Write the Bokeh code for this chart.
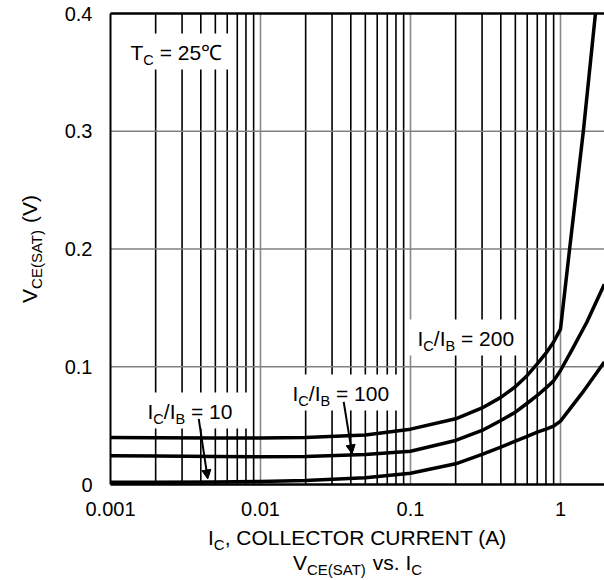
import math
import numpy as np
from bokeh.plotting import figure
from bokeh.models import (FixedTicker, CustomJSTickFormatter, Label, Arrow,
                          NormalHead, Range1d)
from bokeh.embed import file_html
from bokeh.resources import INLINE

# ---------------- data ----------------
current_200 = [0.001, 0.002, 0.005, 0.01, 0.02, 0.05, 0.1, 0.2, 0.3, 0.4, 0.5,
               0.6, 0.7, 0.8, 0.9, 1.0, 1.15, 1.42, 1.71]
vce_200 = [0.0400, 0.0398, 0.0395, 0.0395, 0.0400, 0.0420, 0.0470, 0.0558,
           0.0650, 0.0740, 0.0830, 0.0926, 0.1025, 0.1115, 0.1210, 0.1320,
           0.200, 0.300, 0.400]

current_100 = [0.001, 0.002, 0.005, 0.01, 0.02, 0.05, 0.1, 0.2, 0.3, 0.4, 0.5,
               0.6, 0.7, 0.8, 0.9, 1.0, 1.2, 1.5, 1.96]
vce_100 = [0.0245, 0.0242, 0.0238, 0.0236, 0.0238, 0.0255, 0.0283, 0.0374,
           0.0459, 0.0544, 0.0614, 0.0690, 0.0756, 0.0820, 0.0880, 0.0968,
           0.115, 0.138, 0.170]

current_10 = [0.001, 0.002, 0.005, 0.01, 0.02, 0.05, 0.1, 0.2, 0.3, 0.4, 0.5,
              0.6, 0.7, 0.8, 0.9, 1.0, 1.4, 1.96]
vce_10 = [0.0020, 0.0020, 0.0022, 0.0025, 0.0033, 0.0058, 0.0096, 0.0176,
          0.0255, 0.0317, 0.0368, 0.0408, 0.0444, 0.0470, 0.0495, 0.0538,
          0.078, 0.104]

x_ticks = [0.001, 0.01, 0.1, 1]
x_tick_labels = ["0.001", "0.01", "0.1", "1"]
x_minor_multipliers = [2, 3, 4, 5, 6, 7, 8, 9]
y_ticks = [0, 0.1, 0.2, 0.3, 0.4]
y_tick_labels = ["0", "0.1", "0.2", "0.3", "0.4"]

arrow_target_10 = 0.00445     # A, where the "10" arrow touches its curve
arrow_target_100 = 0.0408     # A, where the "100" arrow touches its curve

# ---------------- layout (picture pixels) ----------------
FIG_W, FIG_H = 604, 580
FRAME_L, FRAME_T, FRAME_B, FRAME_R = 110, 13, 484, 604
PX_DEC = 150.0
X_MIN, Y_MAX = 0.001, 0.4
PX_PER_V = (FRAME_B - FRAME_T) / Y_MAX
X_END = X_MIN * 10 ** ((FRAME_R - FRAME_L) / PX_DEC)
BASE_FIX = 0.38   # baseline correction (fraction of font size)


def xd(px):
    return X_MIN * 10 ** ((px - FRAME_L) / PX_DEC)


def yd(py):
    return (FRAME_B - py) / PX_PER_V


def xp(x):
    return FRAME_L + PX_DEC * math.log10(x / X_MIN)


def yp(y):
    return FRAME_B - y * PX_PER_V


FONT = "Liberation Sans"
W = {' ': 278, '(': 333, ')': 333, ',': 278, '.': 278, '/': 278, '=': 584,
     'A': 667, 'B': 667, 'C': 722, 'E': 667, 'I': 278, 'L': 556, 'N': 722,
     'O': 778, 'R': 722, 'S': 667, 'T': 611, 'U': 722, 'V': 667, 's': 500,
     'v': 500, '℃': 1000}


def tw(s, size):
    return sum(W.get(c, 556) for c in s) * size / 1000.0


p = figure(width=FIG_W, height=FIG_H, x_axis_type="log", title=None,
           x_range=Range1d(xd(0), xd(FIG_W)), y_range=Range1d(yd(FIG_H), yd(0)),
           output_backend="svg", toolbar_location=None,
           min_border=0, min_border_left=0, min_border_right=0,
           min_border_top=0, min_border_bottom=0)
p.outline_line_color = None
p.background_fill_color = "white"
p.border_fill_color = "white"
p.xgrid.visible = False
p.ygrid.visible = False

x_minor = [m * d for d in x_ticks for m in x_minor_multipliers if m * d <= X_END]
xticker = FixedTicker(ticks=x_ticks, minor_ticks=x_minor)
yticker = FixedTicker(ticks=y_ticks, minor_ticks=[])

xa = p.xaxis[0]
ya = p.yaxis[0]
xa.ticker = xticker
ya.ticker = yticker
xa.fixed_location = 0
ya.fixed_location = X_MIN
xa.bounds = (X_MIN, X_END)
ya.bounds = (0, Y_MAX)
xa.formatter = CustomJSTickFormatter(args=dict(labels=x_tick_labels),
                                     code="return labels[index]")
ya.formatter = CustomJSTickFormatter(args=dict(labels=y_tick_labels),
                                     code="return labels[index]")
for ax in (xa, ya):
    ax.major_tick_out = 0
    ax.major_tick_in = 0
    ax.minor_tick_out = 0
    ax.minor_tick_in = 0
    ax.axis_line_color = "black"
    ax.major_label_text_font = FONT
    ax.major_label_text_font_size = "20px"
    ax.major_label_text_color = "black"
xa.axis_line_width = 2.5
ya.axis_line_width = 2
xa.major_label_standoff = 17
ya.major_label_standoff = 18

# ---------------- grid (drawn from the tick arrays) ----------------
n_min = len(x_minor)
p.segment(x0=x_minor, y0=[0] * n_min, x1=x_minor, y1=[Y_MAX] * n_min,
          line_color="black", line_width=1.6)
x_dec = [t for t in x_ticks if t > X_MIN]
p.segment(x0=x_dec, y0=[0] * len(x_dec), x1=x_dec, y1=[Y_MAX] * len(x_dec),
          line_color="#8a8a8a", line_width=1.6)
y_inner = [t for t in y_ticks if 0 < t < Y_MAX]
p.segment(x0=[X_MIN] * len(y_inner), y0=y_inner, x1=[X_END] * len(y_inner),
          y1=y_inner, line_color="#808080", line_width=1.6)
# top edge of the plot area
p.segment(x0=[X_MIN], y0=[Y_MAX], x1=[X_END], y1=[Y_MAX],
          line_color="black", line_width=2.5)

# ---------------- text helpers ----------------


def pieces_width(pieces, size, sub):
    return sum(tw(t, sub if s else size) for t, s in pieces)


def draw_pieces(pieces, x0, base, size, sub, drop, rotate=False):
    pos = x0 if not rotate else base
    for t, s in pieces:
        fs = sub if s else size
        txt = t.lstrip(' ')
        lead = tw(t[:len(t) - len(txt)], fs)
        shift = (drop if s else 0) - BASE_FIX * fs
        if not rotate:
            lab = Label(x=xd(pos + lead), y=yd(base + shift),
                        text=txt, text_font=FONT, text_font_size=f"{fs}px",
                        text_color="black", text_align="left",
                        text_baseline="alphabetic")
            pos += tw(t, fs)
        else:
            lab = Label(x=xd(x0 + shift), y=yd(pos - lead),
                        text=txt, angle=math.pi / 2,
                        text_font=FONT, text_font_size=f"{fs}px",
                        text_color="black", text_align="left",
                        text_baseline="alphabetic")
            pos -= tw(t, fs)
        p.add_layout(lab)


def ratio_label(n):
    return [("I", 0), ("C", 1), ("/I", 0), ("B", 1), (f" = {n}", 0)]


inline_labels = [
    # pieces, left x, baseline, (pad_left, pad_right)
    ([("T", 0), ("C", 1), (" = 25℃", 0)], 130, 60, (7, 8)),
    (ratio_label(10), 147, 419, (6, 17)),
    (ratio_label(100), 292, 401, (5, 8)),
    (ratio_label(200), 417, 346, (11, 10)),
]
LS, LSUB, LDROP = 21, 14.5, 5

# white boxes behind the inline labels
bl, br, bt, bb = [], [], [], []
for pcs, x0, base, (pl, pr) in inline_labels:
    wdt = pieces_width(pcs, LS, LSUB)
    bl.append(xd(x0 - pl))
    br.append(xd(x0 + wdt + pr))
    bt.append(yd(base - 27))
    bb.append(yd(base + 9))
p.quad(left=bl, right=br, top=bt, bottom=bb, fill_color="white",
       line_color=None)

# ---------------- curves ----------------
for cur, v in ((current_200, vce_200), (current_100, vce_100),
               (current_10, vce_10)):
    p.line(cur, v, line_color="black", line_width=3.5, line_join="round")

for pcs, x0, base, _ in inline_labels:
    draw_pieces(pcs, x0, base, LS, LSUB, LDROP)

# arrows
for target, cur, v, gap, (dx, dy) in (
        (arrow_target_10, current_10, vce_10, 3, (-9, -60)),
        (arrow_target_100, current_100, vce_100, 1, (-8.4, -52))):
    vy = float(np.interp(math.log10(target), np.log10(cur), v))
    tx, ty = xp(target), yp(vy) - gap
    p.add_layout(Arrow(end=NormalHead(size=9, fill_color="black",
                                      line_color="black"),
                       x_start=xd(tx + dx), y_start=yd(ty + dy),
                       x_end=xd(tx), y_end=yd(ty),
                       line_color="black", line_width=2))

# ---------------- axis titles ----------------
TS, TSUB, TDROP = 21, 15, 5
center_x = (FRAME_L + FRAME_R) / 2
t1 = [("I", 0), ("C", 1), (", COLLECTOR CURRENT (A)", 0)]
t2 = [("V", 0), ("CE(SAT)", 1), (" vs. I", 0), ("C", 1)]
draw_pieces(t1, center_x - pieces_width(t1, TS, TSUB) / 2, 545, TS, TSUB, TDROP)
draw_pieces(t2, center_x - pieces_width(t2, TS, TSUB) / 2, 570, TS, TSUB, TDROP)

ty_pcs = [("V", 0), ("CE(SAT)", 1), (" (V)", 0)]
center_y = (FRAME_T + FRAME_B) / 2
draw_pieces(ty_pcs, 36.5, center_y + pieces_width(ty_pcs, TS, TSUB) / 2,
            TS, TSUB, TDROP, rotate=True)

open("out.html", "w").write(file_html(p, INLINE))
